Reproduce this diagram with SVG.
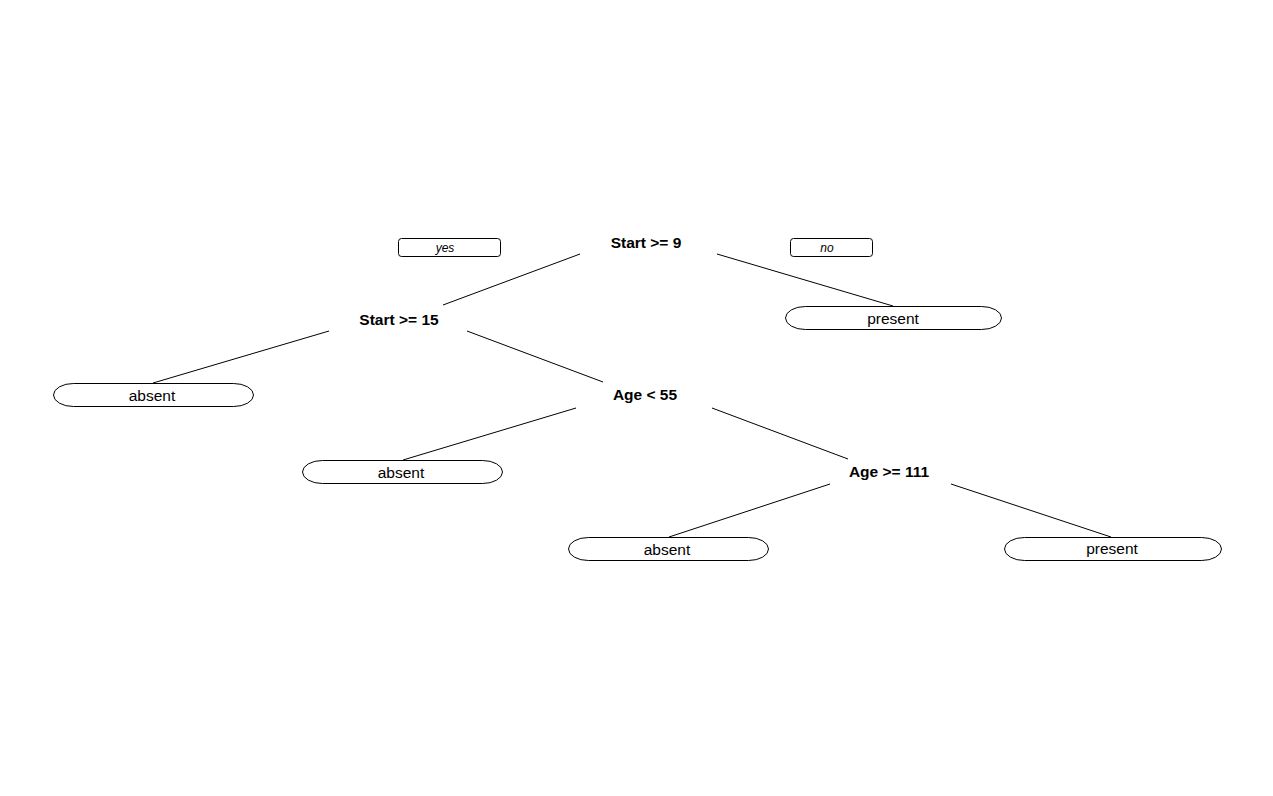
<svg xmlns="http://www.w3.org/2000/svg" width="1273" height="796" viewBox="0 0 1273 796">
  <style>
    .split { font-family: "Liberation Sans", Arial, sans-serif; font-size: 15.5px; font-weight: bold; fill: #000; text-anchor: middle; }
    .leaf rect { fill: #fff; stroke: #000; stroke-width: 1; }
    .leaf text { font-family: "Liberation Sans", Arial, sans-serif; font-size: 15.5px; fill: #000; text-anchor: middle; }
    .tag rect { fill: #fff; stroke: #000; stroke-width: 1; }
    .tag text { font-family: "Liberation Sans", Arial, sans-serif; font-size: 12px; font-style: italic; fill: #000; text-anchor: middle; }
    .edges line { stroke: #000; stroke-width: 1; }
  </style>
  <rect width="1273" height="796" fill="#fff"/>

  <!-- branch lines -->
  <g id="connectors" class="edges">
    <line x1="580" y1="254" x2="443" y2="305"/>
    <line x1="717" y1="254" x2="893" y2="306"/>
    <line x1="329" y1="331" x2="153" y2="383"/>
    <line x1="467" y1="331" x2="603" y2="382"/>
    <line x1="576" y1="408" x2="403" y2="460"/>
    <line x1="712" y1="408" x2="848" y2="459"/>
    <line x1="830" y1="484" x2="669" y2="537"/>
    <line x1="951" y1="484" x2="1111" y2="537"/>
  </g>

  <!-- yes / no labels -->
  <g id="tag-yes" class="tag">
    <rect x="398.5" y="238.5" width="102" height="18" rx="3" ry="3"/>
    <text x="445" y="252">yes</text>
  </g>
  <g id="tag-no" class="tag">
    <rect x="790.5" y="238.5" width="82" height="18" rx="3" ry="3"/>
    <text x="827" y="252">no</text>
  </g>

  <!-- split nodes -->
  <g id="node-start9"><text class="split" x="646" y="248">Start &gt;= 9</text></g>
  <g id="node-start15"><text class="split" x="399" y="325">Start &gt;= 15</text></g>
  <g id="node-age55"><text class="split" x="645" y="400">Age &lt; 55</text></g>
  <g id="node-age111"><text class="split" x="889" y="477">Age &gt;= 111</text></g>

  <!-- leaf nodes -->
  <g id="leaf-present-1" class="leaf">
    <rect x="785.5" y="306.5" width="216" height="23" rx="20" ry="11.5"/>
    <text x="893" y="324">present</text>
  </g>
  <g id="leaf-absent-1" class="leaf">
    <rect x="53.5" y="383.5" width="200" height="23" rx="20" ry="11.5"/>
    <text x="152" y="401">absent</text>
  </g>
  <g id="leaf-absent-2" class="leaf">
    <rect x="302.5" y="460.5" width="200" height="23" rx="20" ry="11.5"/>
    <text x="401" y="478">absent</text>
  </g>
  <g id="leaf-absent-3" class="leaf">
    <rect x="568.5" y="537.5" width="200" height="23" rx="20" ry="11.5"/>
    <text x="667" y="555">absent</text>
  </g>
  <g id="leaf-present-2" class="leaf">
    <rect x="1004.5" y="537.5" width="217" height="23" rx="20" ry="11.5"/>
    <text x="1112" y="554">present</text>
  </g>
</svg>
